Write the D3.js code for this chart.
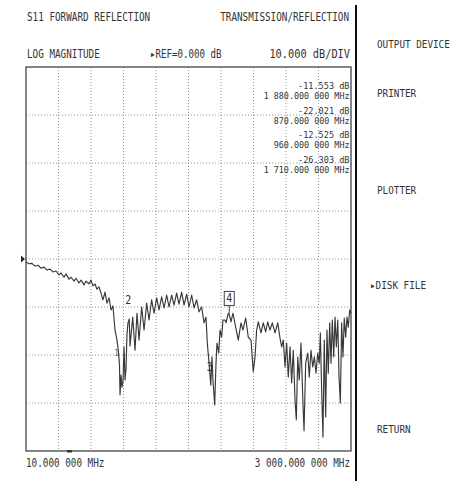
<!DOCTYPE html>
<html><head><meta charset="utf-8">
<script src="https://cdn.jsdelivr.net/npm/d3@7"></script>
<style>html,body{margin:0;padding:0;background:#fff;}svg{display:block;}</style>
</head><body>
<svg id="c" width="464" height="481"></svg>
<script>
// ---- data ----
const startMHz = 10, stopMHz = 3000;
const refDb = 0, dbPerDiv = 10;
const titleLeft = "S11 FORWARD REFLECTION";
const titleRight = "TRANSMISSION/REFLECTION";
const formatLabel = "LOG MAGNITUDE";
const refLabel = "\u25B8REF=0.000 dB";
const scaleLabel = "10.000 dB/DIV";
const softkeys = ["OUTPUT DEVICE", "PRINTER", "PLOTTER", "\u25B8DISK FILE", "RETURN"];
const markerIds = [4, 1, 2, 3];
const markerFreq = [1880, 870, 960, 1710];
const markerDb = [-11.553, -22.021, -12.525, -26.303];
const traceFreq = [10,38,65,93,120,148,176,203,231,258,
286,314,332,360,378,406,424,452,470,498,
516,544,562,590,608,626,645,663,682,700,
718,737,755,774,792,810,829,847,861,870,
875,884,893,902,912,921,930,939,948,960,
967,992,1013,1031,1050,1074,1096,1120,1142,1166,
1188,1212,1234,1258,1280,1304,1326,1350,1372,1396,
1418,1442,1464,1488,1510,1534,1556,1580,1602,1626,
1648,1666,1678,1694,1710,1721,1730,1746,1758,1767,
1783,1795,1810,1822,1841,1850,1871,1880,1896,1914,
1939,1963,1988,2006,2031,2055,2080,2101,2117,2132,
2147,2172,2193,2215,2234,2255,2276,2301,2326,2347,
2362,2377,2393,2408,2423,2439,2454,2469,2485,2497,
2510,2524,2540,2556,2568,2583,2602,2616,2632,2648,
2663,2678,2694,2708,2718,2730,2742,2754,2767,2779,
2791,2804,2816,2828,2841,2853,2865,2878,2890,2902,
2914,2926,2938,2951,2963,2975,2988,3000];
const traceDb = [-0.6,-1.0,-0.9,-1.5,-1.3,-1.9,-1.7,-2.3,-2.1,-2.7,
-2.5,-3.3,-2.9,-3.8,-3.1,-4.2,-3.8,-4.6,-4.0,-5.0,
-4.4,-5.4,-4.6,-5.2,-4.4,-5.6,-5.2,-6.3,-5.8,-7.1,
-8.5,-6.9,-9.2,-8.1,-10.6,-9.8,-14.8,-16.9,-19.4,-22.0,
-28.3,-24.2,-26.7,-25.6,-18.3,-25.2,-22.9,-15.8,-13.3,-12.5,
-18.1,-12.1,-19.0,-11.3,-16.9,-10.0,-14.8,-9.2,-12.7,-8.5,
-11.3,-8.1,-10.6,-7.9,-10.2,-7.5,-10.0,-7.5,-9.6,-7.1,
-9.4,-6.9,-9.6,-7.3,-10.0,-7.5,-10.2,-8.5,-11.0,-10.0,
-13.3,-12.1,-17.5,-21.7,-26.3,-20.4,-25.2,-30.4,-21.7,-17.5,
-19.6,-14.8,-16.3,-12.7,-12.7,-13.3,-11.3,-11.55,-13.1,-11.3,
-14.2,-16.9,-13.3,-14.8,-12.3,-16.3,-16.9,-23.5,-20.4,-14.8,
-13.1,-15.4,-13.3,-15.2,-13.1,-14.8,-13.3,-15.4,-13.3,-16.5,
-18.3,-16.9,-22.5,-17.5,-24.6,-18.3,-25.8,-19.0,-29.4,-33.5,
-20.4,-25.2,-17.5,-28.8,-35.8,-21.7,-19.6,-24.6,-19.0,-22.5,
-20.4,-23.8,-19.6,-21.7,-15.4,-27.3,-37.1,-16.9,-32.9,-14.8,
-23.8,-13.3,-21.7,-12.7,-20.4,-12.1,-18.3,-12.7,-24.6,-30.0,
-13.3,-20.4,-12.3,-16.3,-12.1,-14.2,-10.6,-11.3];

// ---- layout ----
const L = 26, R = 351, T = 67, B = 451;
const FONT = "'DejaVu Sans Mono', 'Liberation Mono', monospace";
const INK = "#333";
const svg = d3.select("#c");

const x = d3.scaleLinear().domain([startMHz, stopMHz]).range([L, R]);
const y = d3.scaleLinear().domain([refDb - 4 * dbPerDiv, refDb + 4 * dbPerDiv]).range([B, T]);

function fmtFreq(mhz) {
  const ip = Math.floor(mhz);
  const frac = Math.round((mhz - ip) * 1e6).toString().padStart(6, "0");
  const ips = ip.toString().replace(/\B(?=(\d{3})+(?!\d))/g, " ");
  return ips + "." + frac.slice(0, 3) + " " + frac.slice(3) + " MHz";
}
function fmtDb(v) { return v.toFixed(3) + " dB"; }

function txt(px, py, s, o = {}) {
  const size = o.size || 11.5, cw = o.cw || 5.6;
  return svg.append("text")
    .attr("x", px).attr("y", py)
    .attr("font-family", FONT).attr("font-size", size)
    .attr("fill", o.fill || INK)
    .attr("text-anchor", o.anchor || "start")
    .attr("textLength", s.length * cw)
    .attr("lengthAdjust", "spacingAndGlyphs")
    .text(s);
}

// grid
const nx = 10, ny = 8;
const gx = d3.range(1, nx).map(i => startMHz + i * (stopMHz - startMHz) / nx);
const gy = d3.range(1, ny).map(i => y.domain()[0] + i * dbPerDiv);
const grid = svg.append("g").attr("stroke", "#7a7a7a").attr("stroke-width", 0.8).attr("stroke-dasharray", "1,2");
grid.selectAll("line.v").data(gx).join("line").attr("class", "v")
  .attr("x1", d => x(d)).attr("x2", d => x(d)).attr("y1", T).attr("y2", B);
grid.selectAll("line.h").data(gy).join("line").attr("class", "h")
  .attr("x1", L).attr("x2", R).attr("y1", d => y(d)).attr("y2", d => y(d));

// frame
svg.append("rect").attr("x", L).attr("y", T).attr("width", R - L).attr("height", B - T)
  .attr("fill", "none").attr("stroke", "#444").attr("stroke-width", 1.3);

// trace
const pts = traceFreq.map((f, i) => [f, traceDb[i]]);
svg.append("path").datum(pts)
  .attr("fill", "none").attr("stroke", "#383838").attr("stroke-width", 1.15)
  .attr("stroke-linejoin", "round")
  .attr("d", d3.line().x(d => x(d[0])).y(d => y(d[1])));

// reference arrow
const ry = y(refDb);
svg.append("path").attr("d", `M${L - 5},${ry - 3.5} L${L - 1},${ry} L${L - 5},${ry + 3.5} Z`).attr("fill", "#222");

// bottom small marker
svg.append("rect").attr("x", x(405) - 2).attr("y", B - 1).attr("width", 5).attr("height", 2.5).attr("fill", "#333");

// marker labels on the trace
markerIds.forEach((id, i) => {
  const mx = x(markerFreq[i]), my = y(markerDb[i]);
  if (id === 4) {
    svg.append("rect").attr("x", mx - 5).attr("y", my - 23).attr("width", 10).attr("height", 14)
      .attr("fill", "#fff").attr("stroke", "#444").attr("stroke-width", 1);
    svg.append("line").attr("x1", mx).attr("x2", mx).attr("y1", my - 9).attr("y2", my - 1)
      .attr("stroke", "#444").attr("stroke-width", 1);
    txt(mx, my - 12.5, String(id), { anchor: "middle", size: 11.5, cw: 6 });
  } else if (id === 1) {
    txt(mx - 3, my - 9, String(id), { anchor: "middle", size: 9, cw: 4.5, fill: "#666" });
  } else if (id === 2) {
    txt(mx - 1, my - 15, String(id), { anchor: "middle", size: 11.5, cw: 6 });
  } else {
    txt(mx - 1, my - 14, String(id), { anchor: "middle", size: 11.5, cw: 6 });
  }
});

// marker readout
markerIds.forEach((id, i) => {
  const by = 89 + i * 24.5;
  txt(R - 1.5, by, fmtDb(markerDb[i]), { anchor: "end", size: 9.5, cw: 5.15 });
  txt(R - 1.5, by + 10, fmtFreq(markerFreq[i]), { anchor: "end", size: 9.5, cw: 5.05 });
});

// headers
txt(27, 21, titleLeft);
txt(349, 21, titleRight, { anchor: "end" });
txt(27, 58, formatLabel);
txt(150, 58, refLabel, { cw: 5.5 });
txt(350, 58, scaleLabel, { anchor: "end", cw: 6.2 });
txt(L, 467, fmtFreq(startMHz));
txt(350, 467, fmtFreq(stopMHz), { anchor: "end" });

// divider and softkeys
svg.append("line").attr("x1", 356).attr("x2", 356).attr("y1", 5).attr("y2", 481)
  .attr("stroke", "#111").attr("stroke-width", 2);
const keyY = [48, 97, 194, 289, 433];
softkeys.forEach((k, i) => {
  const isSel = k.startsWith("\u25B8");
  txt(isSel ? 370 : 377, keyY[i], k, { cw: 5.6, size: 10.5 });
});
</script>
</body></html>
